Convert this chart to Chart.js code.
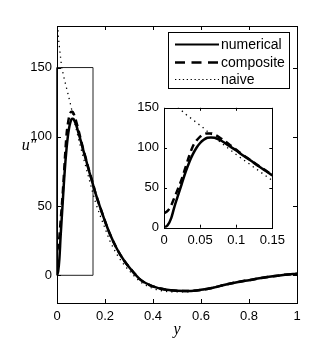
<!DOCTYPE html>
<html>
<head>
<meta charset="utf-8">
<script src="https://cdn.jsdelivr.net/npm/chart.js@4/dist/chart.umd.min.js"></script>
<style>
  html, body { margin: 0; padding: 0; background: #fff; overflow: hidden; }
  #wrap { position: relative; width: 329px; height: 353px; }
  #main { position: absolute; left: 0; top: 0; }
  #inset { position: absolute; left: 130px; top: 95px; }
</style>
</head>
<body>
<div id="wrap">
  <canvas id="main" width="329" height="353"></canvas>
  <canvas id="inset" width="160" height="155"></canvas>
</div>
<script>
// ---- data ----
const yPos = [0,0.005,0.01,0.015,0.02,0.025,0.03,0.035,0.04,0.045,
              0.05,0.055,0.06,0.065,0.07,0.08,0.09,0.10,0.11,0.12,
              0.13,0.14,0.15,0.16,0.18,0.2,0.22,0.25,0.28,0.3,
              0.35,0.4,0.45,0.5,0.55,0.6,0.65,0.7,0.75,0.8,
              0.85,0.9,0.95,1.0];
const numerical = [0,3,12,28,42,56,70,82,92,100,
                   106,110,112.5,113,112.5,108.5,102.5,96.5,90,84,
                   77.5,71.5,65.5,59.5,49,39,30,19,10.5,6,
                   -3.5,-8,-10.3,-11.2,-11.3,-10.5,-9,-6.8,-5,-3.5,
                   -2,-0.7,0.4,1.2];
const composite = [18,21,28,39,50,62,76,90,102,109,
                   114,117,118,118,116.5,111,104.5,97.5,90.5,84.5,
                   78,72,66,59.5,49,39,30,19,10.5,6,
                   -3.5,-8,-10.3,-11.2,-11.3,-10.5,-9,-6.8,-5,-3.5,
                   -2,-0.7,0.4,1.2];
const naive = [200,175,165,157,150,146,142,138.5,135,131.5,
               128,124.5,120.5,117,113,105.5,98.5,91.5,85,78.5,
               72,65.5,59,53,43,34,25,15,7.5,3.5,
               -5,-9.5,-11.5,-12,-11.8,-10.5,-8.8,-6.8,-5,-3.5,
               -2,-0.7,0.4,1.2];
const seriesNames = ['numerical','composite','naive'];
// zoom window outline (inset region) in data units
const zoomBoxX = [0,0.15,0.15,0,0];
const zoomBoxY = [0,0,150,150,0];
// ticks
const mainXTicks = [0,0.2,0.4,0.6,0.8,1];
const mainXTickLabels = ['0','0.2','0.4','0.6','0.8','1'];
const mainYTicks = [0,50,100,150];
const mainYTickLabels = ['0','50','100','150'];
const insetXTicks = [0,0.05,0.1,0.15];
const insetXTickLabels = ['0','0.05','0.1','0.15'];
const insetYTicks = [0,50,100,150];
const insetYTickLabels = ['0','50','100','150'];
const xTitle = 'y';
const yTitle = 'u\u2033';

// ---- helpers ----
const pts = (xs, ys) => xs.map((x, i) => ({x: x, y: ys[i]}));
const TICK_FONT = {family: '"Liberation Sans", Arial, sans-serif', size: 13};

function makeDatasets(withBox) {
  const ds = [
    {label: seriesNames[0], data: pts(yPos, numerical), borderColor: '#000', borderWidth: 2.5,
     pointRadius: 0, cubicInterpolationMode: 'monotone', fill: false, clip: 0, order: 1},
    {label: seriesNames[1], data: pts(yPos, composite), borderColor: '#000', borderWidth: 2.5,
     borderDash: [7, 4.5], pointRadius: 0, cubicInterpolationMode: 'monotone', fill: false, clip: 0, order: 2},
    {label: seriesNames[2], data: pts(yPos, naive), borderColor: '#000', borderWidth: 1.3,
     borderDash: [1.3, 4], pointRadius: 0, cubicInterpolationMode: 'monotone', fill: false, clip: 0, order: 3}
  ];
  if (withBox) {
    ds.push({label: '_box', data: pts(zoomBoxX, zoomBoxY), borderColor: '#222', borderWidth: 1,
      pointRadius: 0, tension: 0, fill: false, clip: 2, order: 4});
  }
  return ds;
}

function scaleCfg(min, max, ticks, labels, pad, fitSize, isY) {
  return {
    type: 'linear', min: min, max: max,
    grid: {display: false, drawTicks: false}, border: {display: false},
    afterBuildTicks: (s) => { s.ticks = ticks.map(v => ({value: v})); },
    afterFit: (s) => { if (isY) s.width = fitSize; else s.height = fitSize; },
    ticks: {
      color: '#000', font: TICK_FONT, padding: pad, maxRotation: 0, autoSkip: false,
      callback: (v, i) => labels[i]
    }
  };
}

const framePlugin = {
  id: 'frame',
  beforeDatasetsDraw(chart, args, opts) {
    if (opts.fillWhite) {
      const a = chart.chartArea, c = chart.ctx;
      c.save(); c.fillStyle = '#fff';
      c.fillRect(a.left, a.top, a.right - a.left, a.bottom - a.top);
      c.restore();
    }
  },
  afterDatasetsDraw(chart, args, opts) {
    const a = chart.chartArea, c = chart.ctx;
    const xs = chart.scales.x, ys = chart.scales.y;
    c.save();
    c.strokeStyle = '#000'; c.lineWidth = 1; c.setLineDash([]);
    c.strokeRect(Math.round(a.left) + 0.5, Math.round(a.top) + 0.5,
                 Math.round(a.right - a.left) - 0, Math.round(a.bottom - a.top) - 0);
    const L = opts.tickLen || 4;
    c.beginPath();
    xs.ticks.forEach(t => {
      const px = Math.round(xs.getPixelForValue(t.value)) + 0.5;
      c.moveTo(px, a.bottom); c.lineTo(px, a.bottom - L);
      c.moveTo(px, a.top); c.lineTo(px, a.top + L);
    });
    ys.ticks.forEach(t => {
      const py = Math.round(ys.getPixelForValue(t.value)) + 0.5;
      c.moveTo(a.left, py); c.lineTo(a.left + L, py);
      c.moveTo(a.right, py); c.lineTo(a.right - L, py);
    });
    c.stroke();
    c.restore();
  }
};

const decorPlugin = {
  id: 'decor',
  afterDraw(chart) {
    const c = chart.ctx, a = chart.chartArea;
    c.save();
    // axis titles
    c.fillStyle = '#000';
    c.font = 'italic 16px "Liberation Serif", "DejaVu Serif", serif';
    c.textAlign = 'center'; c.textBaseline = 'alphabetic';
    c.fillText(xTitle, (a.left + a.right) / 2, 334);
    c.fillText(yTitle, 29, 150);
    // legend
    const bx = 168.5, by = 32.5, bw = 121, bh = 56;
    c.fillStyle = '#fff'; c.fillRect(bx, by, bw, bh);
    c.strokeStyle = '#000'; c.lineWidth = 1; c.setLineDash([]);
    c.strokeRect(bx, by, bw, bh);
    const rows = [44, 62, 79];
    const styles = [
      {w: 2.2, dash: []},
      {w: 2.5, dash: [10, 6.5]},
      {w: 1.2, dash: [1.3, 2.6]}
    ];
    c.font = '14px "Liberation Sans", Arial, sans-serif';
    c.textAlign = 'left'; c.textBaseline = 'middle';
    for (let i = 0; i < 3; i++) {
      const ds = chart.data.datasets[i];
      c.beginPath();
      c.strokeStyle = ds.borderColor; c.lineWidth = styles[i].w;
      c.setLineDash(styles[i].dash); c.lineCap = 'butt';
      c.moveTo(175, rows[i] + 0.5); c.lineTo(219, rows[i] + 0.5);
      c.stroke();
      c.setLineDash([]);
      c.fillStyle = '#000';
      c.fillText(ds.label, 221, rows[i] + 1);
    }
    c.restore();
  }
};

Chart.defaults.animation = false;
Chart.defaults.devicePixelRatio = 1;

new Chart(document.getElementById('main'), {
  type: 'line',
  data: {datasets: makeDatasets(true)},
  options: {
    responsive: false, animation: false, devicePixelRatio: 1,
    layout: {padding: {left: 0, top: 26, right: 32, bottom: 20}},
    plugins: {legend: {display: false}, tooltip: {enabled: false}, frame: {tickLen: 4}},
    scales: {
      x: scaleCfg(0, 1, mainXTicks, mainXTickLabels, 6, 30, false),
      y: scaleCfg(-20, 180, mainYTicks, mainYTickLabels, 5, 57, true)
    }
  },
  plugins: [framePlugin, decorPlugin]
});

new Chart(document.getElementById('inset'), {
  type: 'line',
  data: {datasets: makeDatasets(false)},
  options: {
    responsive: false, animation: false, devicePixelRatio: 1,
    layout: {padding: {left: 0, top: 10, right: 11.7, bottom: 2.3}},
    plugins: {legend: {display: false}, tooltip: {enabled: false}, frame: {tickLen: 3, fillWhite: true}},
    scales: {
      x: scaleCfg(0, 0.15, insetXTicks, insetXTickLabels, 5, 20, false),
      y: scaleCfg(0, 150, insetYTicks, insetYTickLabels, 5, 34, true)
    }
  },
  plugins: [framePlugin]
});
</script>
</body>
</html>
